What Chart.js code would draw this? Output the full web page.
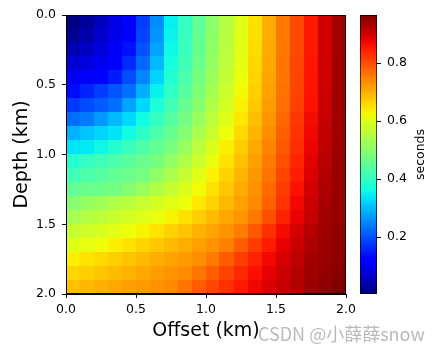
<!DOCTYPE html>
<html>
<head>
<meta charset="utf-8">
<script src="https://cdn.jsdelivr.net/npm/chart.js@4.4.1/dist/chart.umd.min.js"></script>
<style>
  html, body { margin: 0; padding: 0; background: #fff; }
  #wrap { position: relative; width: 437px; height: 352px; }
  #wrap canvas { position: absolute; left: 0; top: 0; }
</style>
</head>
<body>
<div id="wrap">
  <canvas id="heatmap" width="437" height="352"></canvas>
  <canvas id="colorbar" width="437" height="352"></canvas>
</div>
<script>
// cell centres (km)
const offsets = [0.05, 0.15, 0.25, 0.35, 0.45, 0.55, 0.65, 0.75, 0.85, 0.95,
                 1.05, 1.15, 1.25, 1.35, 1.45, 1.55, 1.65, 1.75, 1.85, 1.95];
const depths = [0.05, 0.15, 0.25, 0.35, 0.45, 0.55, 0.65, 0.75, 0.85, 0.95,
                1.05, 1.15, 1.25, 1.35, 1.45, 1.55, 1.65, 1.75, 1.85, 1.95];

// travel times (seconds), one row per depth
const travelTimes = [
  [0.004,0.025,0.057,0.088,0.117,0.182,0.258,0.35,0.402,0.454,0.504,0.552,0.601,0.651,0.703,0.755,0.805,0.855,0.898,0.94],
  [0.02,0.04,0.066,0.093,0.12,0.188,0.265,0.353,0.405,0.456,0.506,0.554,0.602,0.652,0.703,0.755,0.805,0.855,0.898,0.94],
  [0.047,0.06,0.08,0.103,0.139,0.202,0.278,0.359,0.41,0.461,0.51,0.557,0.605,0.655,0.705,0.755,0.805,0.855,0.898,0.94],
  [0.072,0.082,0.097,0.119,0.164,0.221,0.299,0.369,0.418,0.467,0.515,0.562,0.61,0.659,0.708,0.758,0.808,0.858,0.9,0.94],
  [0.1,0.106,0.117,0.149,0.196,0.251,0.325,0.382,0.429,0.477,0.523,0.57,0.616,0.663,0.711,0.759,0.809,0.859,0.901,0.94],
  [0.132,0.156,0.18,0.204,0.229,0.29,0.352,0.398,0.443,0.488,0.534,0.579,0.624,0.669,0.714,0.761,0.811,0.86,0.903,0.94],
  [0.178,0.195,0.212,0.229,0.278,0.329,0.375,0.417,0.459,0.502,0.546,0.59,0.634,0.676,0.719,0.765,0.814,0.863,0.905,0.941],
  [0.227,0.239,0.269,0.299,0.329,0.362,0.401,0.439,0.477,0.519,0.561,0.602,0.644,0.686,0.728,0.774,0.822,0.868,0.908,0.941],
  [0.293,0.309,0.325,0.34,0.363,0.396,0.428,0.461,0.496,0.537,0.577,0.618,0.657,0.696,0.736,0.782,0.828,0.872,0.911,0.941],
  [0.339,0.345,0.357,0.382,0.407,0.432,0.456,0.482,0.52,0.559,0.597,0.635,0.671,0.707,0.744,0.789,0.833,0.876,0.915,0.942],
  [0.383,0.399,0.414,0.43,0.446,0.462,0.478,0.51,0.545,0.579,0.614,0.648,0.682,0.716,0.753,0.798,0.842,0.882,0.92,0.943],
  [0.416,0.429,0.441,0.454,0.467,0.479,0.509,0.54,0.572,0.603,0.633,0.664,0.694,0.725,0.762,0.807,0.851,0.888,0.924,0.944],
  [0.454,0.462,0.469,0.477,0.495,0.521,0.546,0.572,0.597,0.623,0.65,0.677,0.705,0.732,0.772,0.818,0.863,0.897,0.93,0.945],
  [0.498,0.513,0.528,0.543,0.558,0.573,0.588,0.603,0.618,0.642,0.666,0.69,0.714,0.738,0.782,0.828,0.87,0.902,0.934,0.946],
  [0.536,0.549,0.562,0.575,0.588,0.601,0.614,0.63,0.649,0.669,0.689,0.709,0.728,0.757,0.8,0.843,0.878,0.909,0.94,0.948],
  [0.571,0.582,0.594,0.605,0.617,0.631,0.647,0.664,0.68,0.696,0.712,0.729,0.752,0.792,0.832,0.868,0.895,0.921,0.941,0.95],
  [0.603,0.611,0.621,0.635,0.648,0.662,0.676,0.689,0.703,0.717,0.73,0.75,0.785,0.819,0.853,0.879,0.904,0.928,0.943,0.951],
  [0.636,0.647,0.658,0.669,0.68,0.691,0.702,0.713,0.724,0.735,0.755,0.785,0.815,0.845,0.871,0.893,0.914,0.936,0.945,0.953],
  [0.66,0.669,0.679,0.689,0.698,0.708,0.718,0.727,0.737,0.759,0.785,0.812,0.839,0.864,0.883,0.902,0.921,0.94,0.949,0.958],
  [0.684,0.692,0.7,0.708,0.716,0.723,0.731,0.739,0.761,0.784,0.808,0.832,0.855,0.874,0.891,0.909,0.926,0.942,0.952,0.966]
];

const offsetTicks = [0, 0.5, 1.0, 1.5, 2.0];
const depthTicks = [0, 0.5, 1.0, 1.5, 2.0];
const timeTicks = [0.2, 0.4, 0.6, 0.8];

const allTimes = travelTimes.flat();
const tMin = Math.min(...allTimes);
const tMax = Math.max(...allTimes);

// matplotlib "jet" colormap
const jetR = [[0, 0], [0.35, 0], [0.66, 1], [0.89, 1], [1, 0.5]];
const jetG = [[0, 0], [0.125, 0], [0.375, 1], [0.64, 1], [0.91, 0], [1, 0]];
const jetB = [[0, 0.5], [0.11, 1], [0.34, 1], [0.65, 0], [1, 0]];

function channel(n, pts) {
  for (let i = 1; i < pts.length; i++) {
    if (n <= pts[i][0]) {
      const [x0, y0] = pts[i - 1];
      const [x1, y1] = pts[i];
      return y0 + (y1 - y0) * (n - x0) / (x1 - x0);
    }
  }
  return pts[pts.length - 1][1];
}

function jet(n) {
  n = Math.max(0, Math.min(1, n));
  const r = Math.round(255 * channel(n, jetR));
  const g = Math.round(255 * channel(n, jetG));
  const b = Math.round(255 * channel(n, jetB));
  return `rgb(${r},${g},${b})`;
}

const tickFont = { family: 'DejaVu Sans', size: 12.5 };
const labelFont = { family: 'DejaVu Sans', size: 19 };

const heatmapPlugin = {
  id: 'heatmapCells',
  beforeDatasetsDraw(chart) {
    const { ctx, chartArea, scales: { x, y } } = chart;
    const hw = (offsets[1] - offsets[0]) / 2;
    const hh = (depths[1] - depths[0]) / 2;
    ctx.save();
    ctx.beginPath();
    ctx.rect(chartArea.left, chartArea.top, chartArea.right - chartArea.left, chartArea.bottom - chartArea.top);
    ctx.clip();
    depths.forEach((d, j) => {
      const ya = y.getPixelForValue(d - hh);
      const yb = y.getPixelForValue(d + hh);
      offsets.forEach((o, i) => {
        const xa = x.getPixelForValue(o - hw);
        const xb = x.getPixelForValue(o + hw);
        ctx.fillStyle = jet((travelTimes[j][i] - tMin) / (tMax - tMin));
        const left = Math.floor(Math.min(xa, xb));
        const top = Math.floor(Math.min(ya, yb));
        ctx.fillRect(left, top, Math.ceil(Math.max(xa, xb)) - left + 1, Math.ceil(Math.max(ya, yb)) - top + 1);
      });
    });
    ctx.restore();
  },
  afterDraw(chart) {
    const { ctx, chartArea } = chart;
    ctx.save();
    ctx.strokeStyle = '#000';
    ctx.lineWidth = 1;
    ctx.strokeRect(chartArea.left + 0.5, chartArea.top + 0.5,
      chartArea.right - chartArea.left - 1, chartArea.bottom - chartArea.top - 1);
    // watermark
    ctx.font = '18px "Noto Sans CJK SC", "Noto Sans", sans-serif';
    ctx.fillStyle = 'rgba(140,140,140,0.6)';
    ctx.textBaseline = 'alphabetic';
    ctx.fillText('CSDN @小薛薛snow', 258, 341);
    ctx.restore();
  }
};

new Chart(document.getElementById('heatmap'), {
  type: 'scatter',
  data: {
    datasets: [{
      data: depths.flatMap(d => offsets.map(o => ({ x: o, y: d }))),
      pointRadius: 0
    }]
  },
  options: {
    responsive: false,
    animation: false,
    events: [],
    layout: { padding: { left: 0, top: 15, right: 91, bottom: 0 } },
    plugins: { legend: { display: false }, tooltip: { enabled: false } },
    scales: {
      x: {
        type: 'linear', min: 0, max: 2,
        afterBuildTicks: s => { s.ticks = offsetTicks.map(v => ({ value: v })); },
        afterFit: s => { s.height = 58; },
        ticks: { callback: v => v.toFixed(1), color: '#000', font: tickFont, padding: 4, maxRotation: 0, autoSkip: false },
        grid: { drawOnChartArea: false, drawTicks: true, tickLength: 4, color: '#000', tickColor: '#000' },
        border: { display: true, color: '#000', width: 1 },
        title: { display: true, text: 'Offset (km)', color: '#000', font: labelFont, padding: { top: 0, bottom: 10 } }
      },
      y: {
        type: 'linear', min: 0, max: 2, reverse: true,
        afterBuildTicks: s => { s.ticks = depthTicks.map(v => ({ value: v })); },
        afterFit: s => { s.width = 66; },
        ticks: { callback: v => v.toFixed(1), color: '#000', font: tickFont, padding: 6, autoSkip: false },
        grid: { drawOnChartArea: false, drawTicks: true, tickLength: 4, color: '#000', tickColor: '#000' },
        border: { display: true, color: '#000', width: 1 },
        title: { display: true, text: 'Depth (km)', color: '#000', font: labelFont, padding: { top: 11, bottom: 0 } }
      }
    }
  },
  plugins: [heatmapPlugin]
});

// colour bar: one floating bar from min to max filled with the colormap
const colorbarLabel = {
  id: 'colorbarLabel',
  afterDraw(chart) {
    const { ctx, chartArea } = chart;
    ctx.save();
    ctx.translate(421, (chartArea.top + chartArea.bottom) / 2);
    ctx.rotate(-Math.PI / 2);
    ctx.font = '12.5px "DejaVu Sans"';
    ctx.fillStyle = '#000';
    ctx.textAlign = 'center';
    ctx.textBaseline = 'middle';
    ctx.fillText('seconds', 0, 0);
    ctx.restore();
  }
};

new Chart(document.getElementById('colorbar'), {
  type: 'bar',
  data: {
    labels: ['seconds'],
    datasets: [{
      data: [[tMin, tMax]],
      backgroundColor: c => {
        const area = c.chart.chartArea;
        if (!area) return '#000080';
        const g = c.chart.ctx.createLinearGradient(0, area.bottom, 0, area.top);
        for (let k = 0; k <= 40; k++) g.addColorStop(k / 40, jet(k / 40));
        return g;
      },
      borderColor: '#000',
      borderWidth: 1,
      borderSkipped: false,
      categoryPercentage: 1,
      barPercentage: 1
    }]
  },
  options: {
    responsive: false,
    animation: false,
    events: [],
    layout: { padding: { left: 360, top: 15, right: 0, bottom: 58 } },
    plugins: { legend: { display: false }, tooltip: { enabled: false } },
    scales: {
      x: { display: false },
      y: {
        position: 'right', min: tMin, max: tMax,
        afterBuildTicks: s => { s.ticks = timeTicks.map(v => ({ value: v })); },
        afterFit: s => { s.width = 60; },
        ticks: { callback: v => v.toFixed(1), color: '#000', font: tickFont, padding: 6, autoSkip: false },
        grid: { drawOnChartArea: false, drawTicks: true, tickLength: 4, color: '#000', tickColor: '#000' },
        border: { display: false }
      }
    }
  },
  plugins: [colorbarLabel]
});
</script>
</body>
</html>
